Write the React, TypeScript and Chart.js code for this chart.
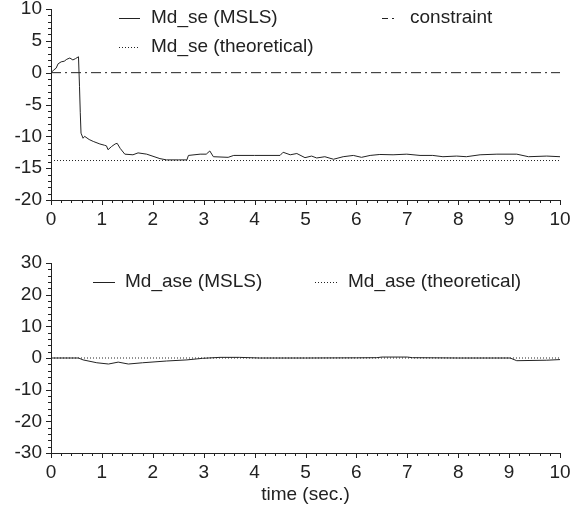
import React, { useEffect, useRef } from 'react';
import { Chart, registerables } from 'chart.js';
Chart.register(...registerables);

// ---------- data ----------
const tSe = [0, 0.05, 0.1, 0.14, 0.2, 0.26, 0.31, 0.37, 0.43, 0.48, 0.54, 0.56, 0.575, 0.59, 0.63, 0.66, 0.75, 0.83, 0.96, 1.05, 1.09, 1.12, 1.19, 1.26, 1.3, 1.36, 1.45, 1.61, 1.71, 1.88, 2.14, 2.27, 2.5, 2.67, 2.7, 2.93, 3.05, 3.12, 3.19, 3.48, 3.59, 4.0, 4.5, 4.56, 4.7, 4.83, 4.99, 5.12, 5.22, 5.38, 5.55, 5.74, 5.94, 6.1, 6.27, 6.46, 6.72, 6.99, 7.25, 7.5, 7.7, 7.97, 8.16, 8.43, 8.76, 9.15, 9.38, 9.74, 10];
const mdSe = [0, 0.4, 0.7, 1.4, 1.7, 1.8, 2.1, 2.3, 2.0, 2.2, 2.5, -2.2, -6.3, -9.5, -10.3, -10.0, -10.5, -10.8, -11.2, -11.4, -11.5, -12.1, -11.6, -11.2, -11.1, -11.9, -12.8, -12.9, -12.6, -12.8, -13.5, -13.7, -13.7, -13.7, -13.0, -12.8, -12.8, -12.3, -13.2, -13.3, -13.0, -13.0, -13.0, -12.5, -12.9, -12.7, -13.35, -13.1, -13.4, -13.2, -13.6, -13.2, -13.0, -13.3, -13.0, -12.85, -12.9, -12.8, -13.0, -13.0, -13.2, -13.1, -13.2, -12.9, -12.8, -12.8, -13.2, -13.1, -13.2];
const tSeTheory = [0, 10];
const mdSeTheory = [-13.8, -13.8];
const tConstraint = [0, 10];
const constraint = [0, 0];

const tAse = [0, 0.54, 0.63, 0.9, 1.13, 1.32, 1.52, 1.8, 2.27, 2.67, 2.98, 3.32, 3.7, 4.1, 5.0, 6.0, 6.4, 6.5, 7.0, 7.1, 8.0, 9.02, 9.15, 9.74, 10];
const mdAse = [0, 0, -0.6, -1.5, -1.9, -1.3, -1.9, -1.5, -0.95, -0.6, -0.1, 0.2, 0.2, 0, 0, 0.05, 0.1, 0.3, 0.3, 0.1, 0, 0, -0.85, -0.7, -0.5];
const tAseTheory = [0, 10];
const mdAseTheory = [0, 0];

const xTicks = [0, 1, 2, 3, 4, 5, 6, 7, 8, 9, 10];
const yTicksTop = [-20, -15, -10, -5, 0, 5, 10];
const yTicksBottom = [-30, -20, -10, 0, 10, 20, 30];

const INK = '#222';
const FONT_FAMILY = '"Liberation Sans", Arial, Helvetica, sans-serif';
const FONT_SIZE = 19;

const pts = (xs: number[], ys: number[]) => xs.map((x, i) => ({ x, y: ys[i] }));

type LegendItem = { text: string; dash: number[]; x0: number; x1: number; tx: number; y: number };

const decoPlugin = {
  id: 'deco',
  afterDraw(chart: any, _args: any, opts: any) {
    const { ctx, chartArea, scales } = chart;
    const x = scales.x;
    const y = scales.y;
    ctx.save();
    ctx.strokeStyle = INK;
    ctx.lineWidth = 1;
    ctx.setLineDash([]);
    const xn = Math.round((x.max - x.min) / opts.xMinor);
    for (let i = 0; i <= xn; i++) {
      const v = x.min + i * opts.xMinor;
      const major = i % opts.xPer === 0;
      const px = Math.round(x.getPixelForValue(v)) + 0.5;
      ctx.beginPath();
      ctx.moveTo(px, chartArea.bottom);
      ctx.lineTo(px, chartArea.bottom + (major ? 5 : 3));
      ctx.stroke();
    }
    const yn = Math.round((y.max - y.min) / opts.yMinor);
    for (let i = 0; i <= yn; i++) {
      const v = y.min + i * opts.yMinor;
      const major = i % opts.yPer === 0;
      const py = Math.round(y.getPixelForValue(v)) + 0.5;
      ctx.beginPath();
      ctx.moveTo(chartArea.left, py);
      ctx.lineTo(chartArea.left - (major ? 5 : 3), py);
      ctx.stroke();
    }
    ctx.font = `${FONT_SIZE}px ${FONT_FAMILY}`;
    ctx.fillStyle = INK;
    ctx.textBaseline = 'middle';
    ctx.textAlign = 'left';
    (opts.legend as LegendItem[]).forEach((it) => {
      ctx.setLineDash(it.dash);
      ctx.beginPath();
      ctx.moveTo(it.x0, it.y + 0.5);
      ctx.lineTo(it.x1, it.y + 0.5);
      ctx.stroke();
      ctx.setLineDash([]);
      ctx.fillText(it.text, it.tx, it.y);
    });
    if (opts.xTitle) {
      ctx.textAlign = 'center';
      ctx.fillText(opts.xTitle, (chartArea.left + chartArea.right) / 2, chartArea.bottom + opts.xTitleOffset);
    }
    ctx.restore();
  },
};

function makeConfig(datasets: any[], yMin: number, yMax: number, yTicks: number[], padTop: number, xHeight: number, deco: any) {
  return {
    type: 'line',
    data: { datasets },
    options: {
      responsive: false,
      animation: false,
      devicePixelRatio: 1,
      layout: { padding: { top: padTop, right: 22, left: 0, bottom: 0 } },
      plugins: { legend: { display: false }, tooltip: { enabled: false }, deco },
      elements: { point: { radius: 0 }, line: { tension: 0, borderWidth: 1 } },
      scales: {
        x: {
          type: 'linear',
          min: 0,
          max: 10,
          afterFit: (s: any) => { s.height = xHeight; s.paddingLeft = 0; s.paddingRight = 0; },
          afterBuildTicks: (s: any) => { s.ticks = xTicks.map((v) => ({ value: v })); },
          grid: { display: false, drawTicks: false },
          border: { display: true, color: INK, width: 1 },
          ticks: { color: INK, padding: 8, autoSkip: false, maxRotation: 0, font: { family: FONT_FAMILY, size: FONT_SIZE } },
        },
        y: {
          type: 'linear',
          min: yMin,
          max: yMax,
          afterFit: (s: any) => { s.width = 51; s.paddingTop = 0; s.paddingBottom = 0; },
          afterBuildTicks: (s: any) => { s.ticks = yTicks.map((v) => ({ value: v })); },
          grid: { display: false, drawTicks: false },
          border: { display: true, color: INK, width: 1 },
          ticks: { color: INK, padding: 9, autoSkip: false, font: { family: FONT_FAMILY, size: FONT_SIZE } },
        },
      },
    },
    plugins: [decoPlugin],
  } as any;
}

export default function App() {
  const topRef = useRef<HTMLCanvasElement>(null);
  const botRef = useRef<HTMLCanvasElement>(null);

  useEffect(() => {
    const line = (data: any, dash: number[]) => ({
      data,
      borderColor: INK,
      borderWidth: 1,
      borderDash: dash,
      pointRadius: 0,
      fill: false,
    });
    const top = new Chart(
      topRef.current!,
      makeConfig(
        [
          line(pts(tConstraint, constraint), [10, 4, 2, 4]),
          line(pts(tSeTheory, mdSeTheory), [1, 2]),
          line(pts(tSe, mdSe), []),
        ],
        -20, 10, yTicksTop, 9, 40,
        {
          xMinor: 0.2, xPer: 5, yMinor: 1, yPer: 5,
          legend: [
            { text: 'Md_se (MSLS)', dash: [], x0: 119, x1: 140, tx: 151, y: 18 },
            { text: 'Md_se (theoretical)', dash: [1, 2], x0: 119, x1: 140, tx: 151, y: 47 },
            { text: 'constraint', dash: [6, 4, 2, 4], x0: 382, x1: 398, tx: 410, y: 18 },
          ],
        }
      )
    );
    const bot = new Chart(
      botRef.current!,
      makeConfig(
        [
          line(pts(tAseTheory, mdAseTheory), [1, 2]),
          line(pts(tAse, mdAse), []),
        ],
        -30, 30, yTicksBottom, 23, 53,
        {
          xMinor: 0.2, xPer: 5, yMinor: 2, yPer: 5,
          xTitle: 'time (sec.)', xTitleOffset: 42,
          legend: [
            { text: 'Md_ase (MSLS)', dash: [], x0: 93, x1: 115, tx: 125, y: 42 },
            { text: 'Md_ase (theoretical)', dash: [1, 2], x0: 315, x1: 337, tx: 348, y: 42 },
          ],
        }
      )
    );
    return () => {
      top.destroy();
      bot.destroy();
    };
  }, []);

  return (
    <div style={{ position: 'absolute', left: 0, top: 0, width: 582, height: 506, background: '#fff' }}>
      <canvas ref={topRef} width={582} height={240} style={{ position: 'absolute', left: 0, top: 0, width: 582, height: 240 }} />
      <canvas ref={botRef} width={582} height={266} style={{ position: 'absolute', left: 0, top: 240, width: 582, height: 266 }} />
    </div>
  );
}
